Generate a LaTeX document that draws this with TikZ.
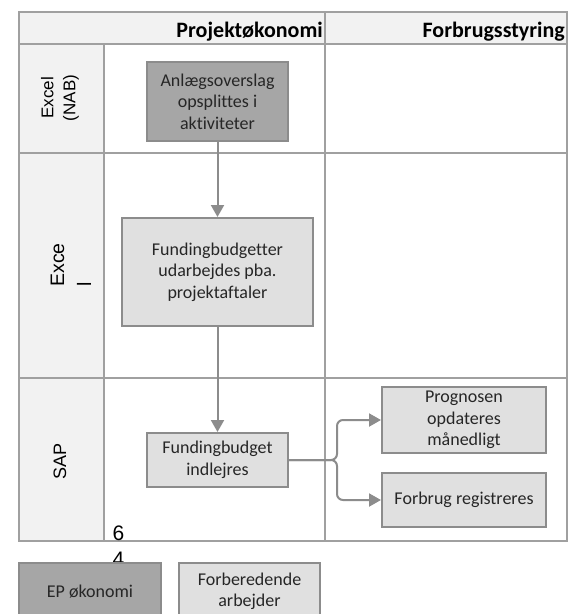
\documentclass[tikz,border=0pt]{standalone}
\usepackage{fontspec}
\setmainfont[Ligatures=NoCommon]{Carlito}
\newfontfamily\lanefont{Liberation Sans}
\usetikzlibrary{
  arrows.meta,
  positioning,  % Function "of" (e.g. [right=of x])
}
\definecolor{laneline}{HTML}{A0A0A0}
\definecolor{lanefill}{HTML}{F2F2F2}
\definecolor{darkbox}{HTML}{A6A6A6}
\definecolor{lightbox}{HTML}{E0E0E0}
\definecolor{boxline}{HTML}{8C8C8C}
\def\myleft{19}
\def\myright{567}
\def\mytop{12}
\def\mybottom{541}
\tikzset{
  x=1pt,
  y=-1pt,
  lane/.style={
    draw=laneline,
    line width=2.4pt
  },
  my box/.style={
    draw=boxline,
    line width=2pt,
    rectangle,
    align=center,
    inner sep=0pt,
    text=black!85,
    font=\fontsize{18}{21.5}\selectfont
  },
  my dark box/.style={
    my box,
    fill=darkbox
  },
  my light box/.style={
    my box,
    fill=lightbox
  },
  flow/.style={
    draw=boxline,
    line width=2pt,
    -{Triangle[length=12pt,width=13pt]}
  },
  lane label/.style={
    rotate=90,
    inner sep=0pt,
    text=black
  },
  head/.style={
    anchor=base east,
    inner sep=0pt,
    font=\bfseries\fontsize{22}{26}\selectfont
  }
}
\begin{document}
\begin{tikzpicture}
\clip (0,0) rectangle (570,614);
\fill[white] (0,0) rectangle (570,614);
% Swimlane frame
\fill[lanefill] (\myleft,\mytop) rectangle (\myright,44);
\fill[lanefill] (\myleft,44) rectangle (104,\mybottom);
\draw[lane] (\myleft,\mytop) rectangle (\myright,\mybottom);
\foreach \y in {44,153,378}
  \draw[lane] (\myleft,\y) -- (\myright,\y);
\draw[lane] (104,44) -- (104,\mybottom);
\draw[lane] (325,\mytop) -- (325,\mybottom);
\node[head] (pk) at (323,37) {Projektøkonomi};
\node[head] (fs) at (565,37) {Forbrugsstyring};
\node[lane label,align=center,font=\lanefont\fontsize{17}{22}\selectfont]
  (nab) at (60,98) {Excel\\(NAB)};
\node[lane label,align=left,font=\lanefont\fontsize{19.5}{27}\selectfont]
  (exc) at (71,265) {Exce\\l};
\node[lane label,font=\lanefont\fontsize{18}{22}\selectfont]
  (sap) at (60,461) {SAP};
% Steps
\node[my dark box,minimum width=141pt,minimum height=79pt]
  (b1) at (217.5,101.5) {Anlægsoverslag\\opsplittes i\\aktiviteter};
\node[my light box,minimum width=191pt,minimum height=108pt]
  (b2) at (217.5,272) {Fundingbudgetter\\udarbejdes pba.\\projektaftaler};
\node[my light box,minimum width=141pt,minimum height=54pt]
  (b3) at (217.5,460) {Fundingbudget\\indlejres};
\node[my light box,minimum width=164pt,minimum height=66pt]
  (b4) at (464,420) {Prognosen\\opdateres\\månedligt};
\node[my light box,minimum width=164pt,minimum height=54pt]
  (b5) [below=18pt of b4] {Forbrug registreres};
\path[flow] (b1) -- (b2);
\path[flow] (b2) -- (b3);
\draw[flow,rounded corners=6pt] (b3.east) -- ++(48,0) |- (b4.west);
\draw[flow,rounded corners=6pt] (b3.east) -- ++(48,0) |- (b5.west);
% Page number and legend
\node[anchor=north,inner sep=0pt,align=center,font=\lanefont\fontsize{21}{26}\selectfont]
  (pg) at (118.5,526) {6\\4};
\node[my dark box,minimum width=142pt,minimum height=57pt]
  (ep) at (90,591.5) {EP økonomi};
\node[my light box,minimum width=141pt,minimum height=57pt]
  (fa) [right=16pt of ep] {Forberedende\\arbejder};
\end{tikzpicture}
\end{document}
